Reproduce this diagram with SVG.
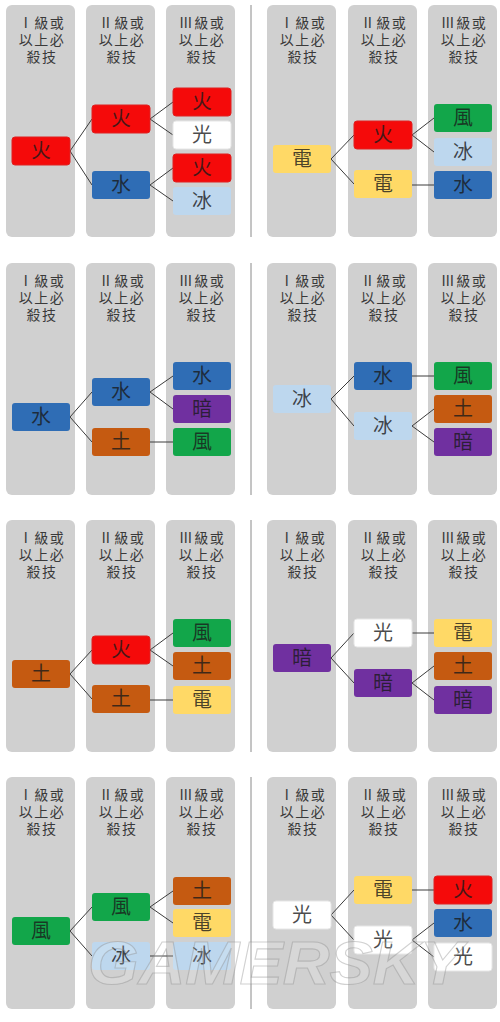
<svg xmlns="http://www.w3.org/2000/svg" width="500" height="1022" viewBox="0 0 500 1022">
<style>
.bg{fill:#ffffff}
.col{fill:#d0d0d0}
.div{stroke:#8a8a8a;stroke-width:1}
.hd{font-family:"Liberation Serif","Noto Sans CJK TC",serif;font-size:14px;letter-spacing:1.5px;fill:#3a3a3a;text-anchor:middle}
.n rect{width:58px;height:28px;rx:3px;ry:3px}
.n text{font-family:"Liberation Serif","Noto Sans CJK TC",serif;font-size:20px;text-anchor:middle;dominant-baseline:central;fill:#1a1a1a;fill-opacity:0.8}
.red{fill:#f50a0a;stroke:#e02020;stroke-width:1}
.blue{fill:#2f6db5}
.lb{fill:#bdd7ee}
.yel{fill:#ffd966}
.org{fill:#c55a11}
.grn{fill:#12a64a}
.pur{fill:#7030a0}
.wht{fill:#ffffff;stroke:#e6e6e6;stroke-width:1}
#connectors line{stroke:#3c3c3c;stroke-width:1}
.wm{font-family:"Liberation Sans",sans-serif;font-weight:bold;font-style:italic;font-size:62px;fill:#ffffff;fill-opacity:0.15;stroke:#8c8c8c;stroke-opacity:0.4;stroke-width:1.1}
</style>
<rect class="bg" x="0" y="0" width="500" height="1022"/>

<g id="columns">
<rect class="col" x="6" y="5" width="69" height="232" rx="6"/>
<rect class="col" x="86" y="5" width="69" height="232" rx="6"/>
<rect class="col" x="166" y="5" width="69" height="232" rx="6"/>
<rect class="col" x="267" y="5" width="69" height="232" rx="6"/>
<rect class="col" x="348" y="5" width="69" height="232" rx="6"/>
<rect class="col" x="428" y="5" width="69" height="232" rx="6"/>

<rect class="col" x="6" y="263" width="69" height="232" rx="6"/>
<rect class="col" x="86" y="263" width="69" height="232" rx="6"/>
<rect class="col" x="166" y="263" width="69" height="232" rx="6"/>
<rect class="col" x="267" y="263" width="69" height="232" rx="6"/>
<rect class="col" x="348" y="263" width="69" height="232" rx="6"/>
<rect class="col" x="428" y="263" width="69" height="232" rx="6"/>

<rect class="col" x="6" y="520" width="69" height="232" rx="6"/>
<rect class="col" x="86" y="520" width="69" height="232" rx="6"/>
<rect class="col" x="166" y="520" width="69" height="232" rx="6"/>
<rect class="col" x="267" y="520" width="69" height="232" rx="6"/>
<rect class="col" x="348" y="520" width="69" height="232" rx="6"/>
<rect class="col" x="428" y="520" width="69" height="232" rx="6"/>

<rect class="col" x="6" y="777" width="69" height="232" rx="6"/>
<rect class="col" x="86" y="777" width="69" height="232" rx="6"/>
<rect class="col" x="166" y="777" width="69" height="232" rx="6"/>
<rect class="col" x="267" y="777" width="69" height="232" rx="6"/>
<rect class="col" x="348" y="777" width="69" height="232" rx="6"/>
<rect class="col" x="428" y="777" width="69" height="232" rx="6"/>
</g>

<g id="dividers">
<line class="div" x1="251" y1="5" x2="251" y2="237"/>
<line class="div" x1="251" y1="263" x2="251" y2="495"/>
<line class="div" x1="251" y1="520" x2="251" y2="752"/>
<line class="div" x1="251" y1="777" x2="251" y2="1009"/>
</g>

<g id="headers">
<g transform="translate(1,5)">
<text class="hd" x="41" y="23">Ⅰ級或</text><text class="hd" x="41" y="40">以上必</text><text class="hd" x="41" y="57">殺技</text>
<text class="hd" x="121" y="23">Ⅱ級或</text><text class="hd" x="121" y="40">以上必</text><text class="hd" x="121" y="57">殺技</text>
<text class="hd" x="201" y="23">Ⅲ級或</text><text class="hd" x="201" y="40">以上必</text><text class="hd" x="201" y="57">殺技</text>
<text class="hd" x="302" y="23">Ⅰ級或</text><text class="hd" x="302" y="40">以上必</text><text class="hd" x="302" y="57">殺技</text>
<text class="hd" x="383" y="23">Ⅱ級或</text><text class="hd" x="383" y="40">以上必</text><text class="hd" x="383" y="57">殺技</text>
<text class="hd" x="463" y="23">Ⅲ級或</text><text class="hd" x="463" y="40">以上必</text><text class="hd" x="463" y="57">殺技</text>
</g>
<g transform="translate(1,263)">
<text class="hd" x="41" y="23">Ⅰ級或</text><text class="hd" x="41" y="40">以上必</text><text class="hd" x="41" y="57">殺技</text>
<text class="hd" x="121" y="23">Ⅱ級或</text><text class="hd" x="121" y="40">以上必</text><text class="hd" x="121" y="57">殺技</text>
<text class="hd" x="201" y="23">Ⅲ級或</text><text class="hd" x="201" y="40">以上必</text><text class="hd" x="201" y="57">殺技</text>
<text class="hd" x="302" y="23">Ⅰ級或</text><text class="hd" x="302" y="40">以上必</text><text class="hd" x="302" y="57">殺技</text>
<text class="hd" x="383" y="23">Ⅱ級或</text><text class="hd" x="383" y="40">以上必</text><text class="hd" x="383" y="57">殺技</text>
<text class="hd" x="463" y="23">Ⅲ級或</text><text class="hd" x="463" y="40">以上必</text><text class="hd" x="463" y="57">殺技</text>
</g>
<g transform="translate(1,520)">
<text class="hd" x="41" y="23">Ⅰ級或</text><text class="hd" x="41" y="40">以上必</text><text class="hd" x="41" y="57">殺技</text>
<text class="hd" x="121" y="23">Ⅱ級或</text><text class="hd" x="121" y="40">以上必</text><text class="hd" x="121" y="57">殺技</text>
<text class="hd" x="201" y="23">Ⅲ級或</text><text class="hd" x="201" y="40">以上必</text><text class="hd" x="201" y="57">殺技</text>
<text class="hd" x="302" y="23">Ⅰ級或</text><text class="hd" x="302" y="40">以上必</text><text class="hd" x="302" y="57">殺技</text>
<text class="hd" x="383" y="23">Ⅱ級或</text><text class="hd" x="383" y="40">以上必</text><text class="hd" x="383" y="57">殺技</text>
<text class="hd" x="463" y="23">Ⅲ級或</text><text class="hd" x="463" y="40">以上必</text><text class="hd" x="463" y="57">殺技</text>
</g>
<g transform="translate(1,777)">
<text class="hd" x="41" y="23">Ⅰ級或</text><text class="hd" x="41" y="40">以上必</text><text class="hd" x="41" y="57">殺技</text>
<text class="hd" x="121" y="23">Ⅱ級或</text><text class="hd" x="121" y="40">以上必</text><text class="hd" x="121" y="57">殺技</text>
<text class="hd" x="201" y="23">Ⅲ級或</text><text class="hd" x="201" y="40">以上必</text><text class="hd" x="201" y="57">殺技</text>
<text class="hd" x="302" y="23">Ⅰ級或</text><text class="hd" x="302" y="40">以上必</text><text class="hd" x="302" y="57">殺技</text>
<text class="hd" x="383" y="23">Ⅱ級或</text><text class="hd" x="383" y="40">以上必</text><text class="hd" x="383" y="57">殺技</text>
<text class="hd" x="463" y="23">Ⅲ級或</text><text class="hd" x="463" y="40">以上必</text><text class="hd" x="463" y="57">殺技</text>
</g>
</g>

<g id="connectors">
<line x1="70" y1="151" x2="92" y2="119"/><line x1="70" y1="151" x2="92" y2="185"/>
<line x1="150" y1="119" x2="173" y2="102"/><line x1="150" y1="119" x2="173" y2="135"/>
<line x1="150" y1="185" x2="173" y2="168"/><line x1="150" y1="185" x2="173" y2="201"/>

<line x1="331" y1="159" x2="354" y2="135"/><line x1="331" y1="159" x2="354" y2="184"/>
<line x1="412" y1="135" x2="434" y2="118"/><line x1="412" y1="135" x2="434" y2="152"/>
<line x1="412" y1="185" x2="434" y2="185"/>

<line x1="70" y1="417" x2="92" y2="392"/><line x1="70" y1="417" x2="92" y2="442"/>
<line x1="150" y1="392" x2="173" y2="376"/><line x1="150" y1="392" x2="173" y2="409"/>
<line x1="150" y1="442" x2="173" y2="442"/>

<line x1="331" y1="399" x2="354" y2="376"/><line x1="331" y1="399" x2="354" y2="426"/>
<line x1="412" y1="376" x2="434" y2="376"/>
<line x1="412" y1="426" x2="434" y2="409"/><line x1="412" y1="426" x2="434" y2="442"/>

<line x1="70" y1="674" x2="92" y2="650"/><line x1="70" y1="674" x2="92" y2="699"/>
<line x1="150" y1="650" x2="173" y2="633"/><line x1="150" y1="650" x2="173" y2="666"/>
<line x1="150" y1="700" x2="173" y2="700"/>

<line x1="331" y1="658" x2="354" y2="633"/><line x1="331" y1="658" x2="354" y2="683"/>
<line x1="412" y1="633" x2="434" y2="633"/>
<line x1="412" y1="683" x2="434" y2="666"/><line x1="412" y1="683" x2="434" y2="700"/>

<line x1="70" y1="931" x2="92" y2="907"/><line x1="70" y1="931" x2="92" y2="956"/>
<line x1="150" y1="907" x2="173" y2="891"/><line x1="150" y1="907" x2="173" y2="923"/>
<line x1="150" y1="956" x2="173" y2="956"/>

<line x1="331" y1="915" x2="354" y2="890"/><line x1="331" y1="915" x2="354" y2="940"/>
<line x1="412" y1="890" x2="434" y2="890"/>
<line x1="412" y1="940" x2="434" y2="923"/><line x1="412" y1="940" x2="434" y2="957"/>
</g>

<!-- Panel A -->
<g id="A1" class="n"><rect class="red" x="12" y="137"/><text x="41" y="151">火</text></g>
<g id="A2a" class="n"><rect class="red" x="92" y="105"/><text x="121" y="119">火</text></g>
<g id="A2b" class="n"><rect class="blue" x="92" y="171"/><text x="121" y="185">水</text></g>
<g id="A3a" class="n"><rect class="red" x="173" y="88"/><text x="202" y="102">火</text></g>
<g id="A3b" class="n"><rect class="wht" x="173" y="121"/><text x="202" y="135">光</text></g>
<g id="A3c" class="n"><rect class="red" x="173" y="154"/><text x="202" y="168">火</text></g>
<g id="A3d" class="n"><rect class="lb" x="173" y="187"/><text x="202" y="201">冰</text></g>

<!-- Panel B -->
<g id="B1" class="n"><rect class="yel" x="273" y="145"/><text x="302" y="159">電</text></g>
<g id="B2a" class="n"><rect class="red" x="354" y="121"/><text x="383" y="135">火</text></g>
<g id="B2b" class="n"><rect class="yel" x="354" y="170"/><text x="383" y="184">電</text></g>
<g id="B3a" class="n"><rect class="grn" x="434" y="104"/><text x="463" y="118">風</text></g>
<g id="B3b" class="n"><rect class="lb" x="434" y="138"/><text x="463" y="152">冰</text></g>
<g id="B3c" class="n"><rect class="blue" x="434" y="171"/><text x="463" y="185">水</text></g>

<!-- Panel C -->
<g id="C1" class="n"><rect class="blue" x="12" y="403"/><text x="41" y="417">水</text></g>
<g id="C2a" class="n"><rect class="blue" x="92" y="378"/><text x="121" y="392">水</text></g>
<g id="C2b" class="n"><rect class="org" x="92" y="428"/><text x="121" y="442">土</text></g>
<g id="C3a" class="n"><rect class="blue" x="173" y="362"/><text x="202" y="376">水</text></g>
<g id="C3b" class="n"><rect class="pur" x="173" y="395"/><text x="202" y="409">暗</text></g>
<g id="C3c" class="n"><rect class="grn" x="173" y="428"/><text x="202" y="442">風</text></g>

<!-- Panel D -->
<g id="D1" class="n"><rect class="lb" x="273" y="385"/><text x="302" y="399">冰</text></g>
<g id="D2a" class="n"><rect class="blue" x="354" y="362"/><text x="383" y="376">水</text></g>
<g id="D2b" class="n"><rect class="lb" x="354" y="412"/><text x="383" y="426">冰</text></g>
<g id="D3a" class="n"><rect class="grn" x="434" y="362"/><text x="463" y="376">風</text></g>
<g id="D3b" class="n"><rect class="org" x="434" y="395"/><text x="463" y="409">土</text></g>
<g id="D3c" class="n"><rect class="pur" x="434" y="428"/><text x="463" y="442">暗</text></g>

<!-- Panel E -->
<g id="E1" class="n"><rect class="org" x="12" y="660"/><text x="41" y="674">土</text></g>
<g id="E2a" class="n"><rect class="red" x="92" y="636"/><text x="121" y="650">火</text></g>
<g id="E2b" class="n"><rect class="org" x="92" y="685"/><text x="121" y="699">土</text></g>
<g id="E3a" class="n"><rect class="grn" x="173" y="619"/><text x="202" y="633">風</text></g>
<g id="E3b" class="n"><rect class="org" x="173" y="652"/><text x="202" y="666">土</text></g>
<g id="E3c" class="n"><rect class="yel" x="173" y="686"/><text x="202" y="700">電</text></g>

<!-- Panel F -->
<g id="F1" class="n"><rect class="pur" x="273" y="644"/><text x="302" y="658">暗</text></g>
<g id="F2a" class="n"><rect class="wht" x="354" y="619"/><text x="383" y="633">光</text></g>
<g id="F2b" class="n"><rect class="pur" x="354" y="669"/><text x="383" y="683">暗</text></g>
<g id="F3a" class="n"><rect class="yel" x="434" y="619"/><text x="463" y="633">電</text></g>
<g id="F3b" class="n"><rect class="org" x="434" y="652"/><text x="463" y="666">土</text></g>
<g id="F3c" class="n"><rect class="pur" x="434" y="686"/><text x="463" y="700">暗</text></g>

<!-- Panel G -->
<g id="G1" class="n"><rect class="grn" x="12" y="917"/><text x="41" y="931">風</text></g>
<g id="G2a" class="n"><rect class="grn" x="92" y="893"/><text x="121" y="907">風</text></g>
<g id="G2b" class="n"><rect class="lb" x="92" y="942"/><text x="121" y="956">冰</text></g>
<g id="G3a" class="n"><rect class="org" x="173" y="877"/><text x="202" y="891">土</text></g>
<g id="G3b" class="n"><rect class="yel" x="173" y="909"/><text x="202" y="923">電</text></g>
<g id="G3c" class="n"><rect class="lb" x="173" y="942"/><text x="202" y="956">冰</text></g>

<!-- Panel H -->
<g id="H1" class="n"><rect class="wht" x="273" y="901"/><text x="302" y="915">光</text></g>
<g id="H2a" class="n"><rect class="yel" x="354" y="876"/><text x="383" y="890">電</text></g>
<g id="H2b" class="n"><rect class="wht" x="354" y="926"/><text x="383" y="940">光</text></g>
<g id="H3a" class="n"><rect class="red" x="434" y="876"/><text x="463" y="890">火</text></g>
<g id="H3b" class="n"><rect class="blue" x="434" y="909"/><text x="463" y="923">水</text></g>
<g id="H3c" class="n"><rect class="wht" x="434" y="943"/><text x="463" y="957">光</text></g>

<g id="watermark">
<text class="wm" x="88" y="984" textLength="375" lengthAdjust="spacingAndGlyphs">GAMERSKY</text>
</g>
</svg>
